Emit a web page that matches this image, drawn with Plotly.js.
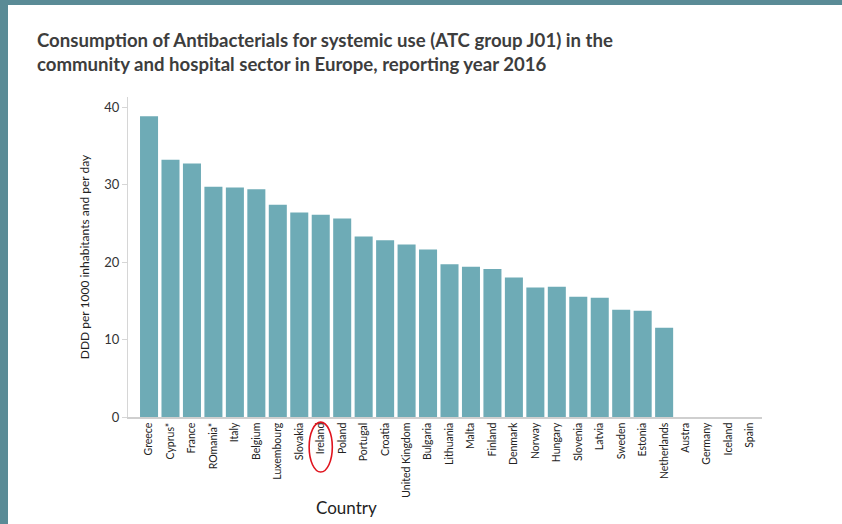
<!DOCTYPE html>
<html>
<head>
<meta charset="utf-8">
<script src="https://cdn.plot.ly/plotly-3.0.1.min.js"></script>
<style>
  html, body { margin: 0; padding: 0; background: #fff; }
  #wrap { position: relative; width: 842px; height: 524px; overflow: hidden; }
  #chart { position: absolute; left: 0; top: 0; width: 842px; height: 524px; }
  #bl { position: absolute; left: 0; top: 0; width: 8px; height: 524px; background: #5a8b96; }
  #bt { position: absolute; left: 0; top: 0; width: 842px; height: 5px; background: #5a8b96; }
</style>
</head>
<body>
<div id="wrap">
  <div id="chart"></div>
  <div id="bl"></div>
  <div id="bt"></div>
</div>
<script>
const countries = ["Greece","Cyprus*","France","ROmania*","Italy","Belgium","Luxembourg","Slovakia","Ireland","Poland","Portugal","Croatia","United Kingdom","Bulgaria","Lithuania","Malta","Finland","Denmark","Norway","Hungary","Slovenia","Latvia","Sweden","Estonia","Netherlands","Austra","Germany","Iceland","Spain"];
const ddd = [38.8, 33.2, 32.7, 29.7, 29.6, 29.4, 27.4, 26.4, 26.1, 25.6, 23.3, 22.8, 22.25, 21.6, 19.7, 19.4, 19.1, 18.0, 16.7, 16.8, 15.5, 15.4, 13.85, 13.7, 11.5, null, null, null, null];
const yTicks = [0, 10, 20, 30, 40];
const highlighted = "Ireland";

const hi = countries.indexOf(highlighted);

const trace = {
  type: "bar",
  x: countries,
  y: ddd,
  marker: { color: "#6eabb6" },
  hoverinfo: "x+y"
};

const layout = {
  width: 842,
  height: 524,
  margin: { l: 128, r: 80, t: 97, b: 107 },
  paper_bgcolor: "#ffffff",
  plot_bgcolor: "#ffffff",
  showlegend: false,
  bargap: 0.16,
  font: { family: "Lato, 'Open Sans', sans-serif", color: "#333" },
  title: {
    text: "<b>Consumption of Antibacterials for systemic use (ATC group J01) in the<br>community and hospital sector in Europe, reporting year 2016</b>",
    font: { family: "Lato, sans-serif", size: 18.6, color: "#3d3d3d" },
    xref: "container", yref: "container",
    x: 37/842, xanchor: "left",
    y: 1 - 47/524, yanchor: "top"
  },
  xaxis: {
    type: "category",
    range: [-0.98, 28.56],
    tickangle: -90,
    tickfont: { family: "Lato, sans-serif", size: 10.5, color: "#222" },
    showline: true, linecolor: "#cfcfcf", linewidth: 1.5,
    showgrid: false, zeroline: false,
    ticks: "", ticklen: 0
  },
  yaxis: {
    range: [0, 41.29],
    tickvals: yTicks,
    ticktext: yTicks.map(String),
    tickfont: { family: "Lato, sans-serif", size: 13, color: "#333" },
    showline: true, linecolor: "#d6d6d6", linewidth: 1,
    ticks: "outside", ticklen: 5, tickcolor: "#d6d6d6",
    showgrid: false, zeroline: false,
    title: {
      text: "DDD per 1000 inhabitants and per day",
      font: { family: "Lato, sans-serif", size: 12, color: "#222" },
      standoff: 12
    }
  },
  annotations: [{
    text: "Country",
    xref: "paper", yref: "paper",
    x: (346 - 128) / 634, xanchor: "center",
    y: (417 - 507) / 320, yanchor: "middle",
    showarrow: false,
    font: { family: "Lato, sans-serif", size: 17, color: "#222" }
  }],
  shapes: [{
    type: "circle",
    xref: "x", yref: "paper",
    x0: hi - 0.54, x1: hi + 0.54,
    y0: -0.172, y1: -0.016,
    line: { color: "#e0141e", width: 1.6 }
  }]
};

Plotly.newPlot("chart", [trace], layout, { displayModeBar: false, staticPlot: true });
</script>
</body>
</html>
